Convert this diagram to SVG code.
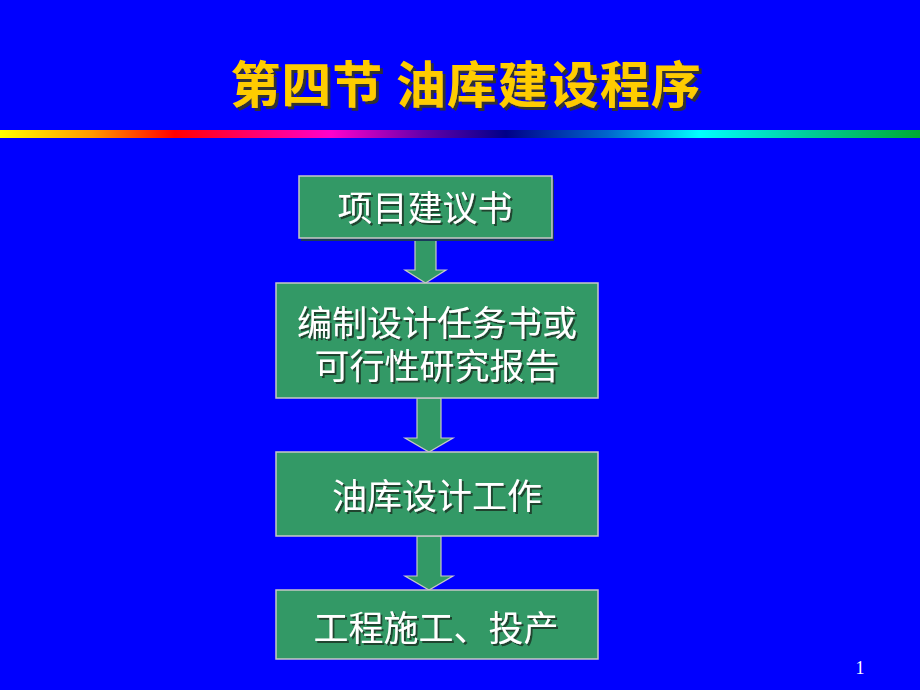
<svg xmlns="http://www.w3.org/2000/svg" width="920" height="690" viewBox="0 0 920 690">
<defs>
<linearGradient id="bar" x1="0" y1="0" x2="1" y2="0">
<stop offset="0" stop-color="#FFFF00"/>
<stop offset="0.1" stop-color="#FF9900"/>
<stop offset="0.19" stop-color="#FF0000"/>
<stop offset="0.27" stop-color="#FF0066"/>
<stop offset="0.36" stop-color="#FF00CC"/>
<stop offset="0.46" stop-color="#6600AA"/>
<stop offset="0.55" stop-color="#000088"/>
<stop offset="0.66" stop-color="#0066CC"/>
<stop offset="0.76" stop-color="#00FFFF"/>
<stop offset="0.88" stop-color="#00CC99"/>
<stop offset="1" stop-color="#00AA33"/>
</linearGradient>
<filter id="tsh" x="-10%" y="-20%" width="120%" height="150%">
<feDropShadow dx="2" dy="2" stdDeviation="0" flood-color="#1a3a2a" flood-opacity="0.9"/>
</filter>
<filter id="titlesh" x="-10%" y="-20%" width="120%" height="150%">
<feDropShadow dx="3" dy="3" stdDeviation="0" flood-color="#333333" flood-opacity="1"/>
</filter>
</defs>
<style>
.box{fill:#339966;stroke:#C8C8C8;stroke-width:1.5}
.shadow{fill:#1a3a5a}
.arrow{fill:#339966;stroke:#C8C8C8;stroke-width:1.2}
.t{font-family:"Noto Sans CJK SC","Noto Sans",sans-serif;font-size:35px;fill:#FFFFFF;text-anchor:middle;filter:url(#tsh)}
.title{font-family:"Noto Sans CJK SC",sans-serif;font-size:50px;font-weight:bold;text-anchor:middle;fill:#FFCC00;filter:url(#titlesh);letter-spacing:1px}
</style>
<rect x="0" y="0" width="920" height="690" fill="#0000FF"/>
<text class="title" x="466" y="103">第四节 油库建设程序</text>
<rect x="0" y="130" width="920" height="8" fill="url(#bar)"/>
<g id="connectors">
<polygon class="arrow" points="415,238 436,238 436,270 446,270 425.5,283 405,270 415,270"/>
<polygon class="arrow" points="417,398 441,398 441,438 453,438 429,452 405,438 417,438"/>
<polygon class="arrow" points="417,536 441,536 441,576 453,576 429,590 405,576 417,576"/>
</g>
<g id="node1">
<rect class="shadow" x="301" y="179" width="253" height="62"/>
<rect class="box" x="299" y="176" width="253" height="62"/>
<text class="t" x="425" y="221">项目建议书</text>
</g>
<g id="node2">
<rect class="box" x="276" y="283" width="322" height="115"/>
<text class="t" x="437" y="336">编制设计任务书或</text>
<text class="t" x="437" y="379">可行性研究报告</text>
</g>
<g id="node3">
<rect class="box" x="276" y="452" width="322" height="84"/>
<text class="t" x="437" y="509">油库设计工作</text>
</g>
<g id="node4">
<rect class="box" x="276" y="590" width="322" height="69"/>
<text class="t" x="436" y="641">工程施工、投产</text>
</g>
<text x="860" y="674" font-family="Liberation Serif,serif" font-size="18" fill="#FFFFFF" text-anchor="middle">1</text>
</svg>
